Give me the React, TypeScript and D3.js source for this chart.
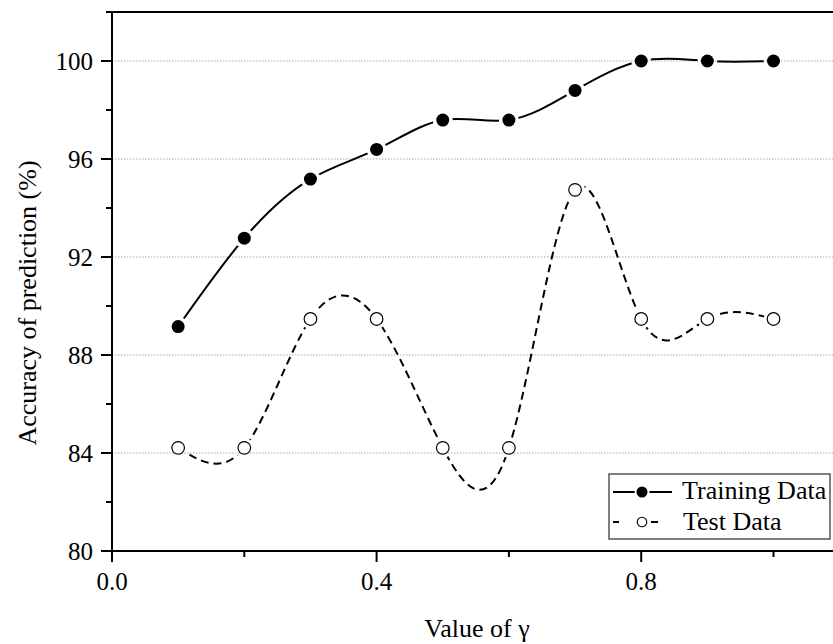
import React from "react";
import * as d3 from "d3";

// gamma values and accuracies (%)
const gammas = [0.1, 0.2, 0.3, 0.4, 0.5, 0.6, 0.7, 0.8, 0.9, 1.0];
const trainAcc = [89.16, 92.77, 95.18, 96.39, 97.59, 97.59, 98.8, 100, 100, 100];
const testAcc = [84.21, 84.21, 89.47, 89.47, 84.21, 84.21, 94.74, 89.47, 89.47, 89.47];

const yMajor = [80, 84, 88, 92, 96, 100];
const yMinor = [82, 86, 90, 94, 98];
const xMajor = [0.0, 0.4, 0.8];
const xMinor = [0.2, 0.6, 1.0];
const gridVals = [84, 88, 92, 96, 100];

const W = 833;
const H = 644;
const left = 112;
const top = 12;
const bottom = 551;
const txt = { fontFamily: "Liberation Serif, Times New Roman, DejaVu Serif, serif" };

export default function App() {
  const x = d3.scaleLinear().domain([0, 1.1]).range([left, left + 1.1 * 661.5]);
  const y = d3.scaleLinear().domain([80, 102]).range([bottom, top]);

  const train = gammas.map((g, i) => [g, trainAcc[i]] as [number, number]);
  const test = gammas.map((g, i) => [g, testAcc[i]] as [number, number]);

  const line = d3
    .line<[number, number]>()
    .x((d) => x(d[0]))
    .y((d) => y(d[1]))
    .curve(d3.curveNatural);

  return (
    <svg width={W} height={H} style={{ position: "absolute", left: 0, top: 0, background: "#fff" }}>
      <defs>
        <mask id="trainMask" maskUnits="userSpaceOnUse" x={0} y={0} width={W} height={H}>
          <rect x={0} y={0} width={W} height={H} fill="#fff" />
          {train.map((d, i) => (
            <circle key={i} cx={x(d[0])} cy={y(d[1])} r={10} fill="#000" />
          ))}
        </mask>
        <mask id="testMask" maskUnits="userSpaceOnUse" x={0} y={0} width={W} height={H}>
          <rect x={0} y={0} width={W} height={H} fill="#fff" />
          {test.map((d, i) => (
            <circle key={i} cx={x(d[0])} cy={y(d[1])} r={10} fill="#000" />
          ))}
        </mask>
      </defs>

      {/* gridlines */}
      {gridVals.map((v) => (
        <line
          key={v}
          x1={left}
          x2={W}
          y1={y(v)}
          y2={y(v)}
          stroke="#a8a8a8"
          strokeWidth={1}
          strokeDasharray="1.5,1.5"
        />
      ))}

      {/* curves */}
      <path d={line(train) || ""} fill="none" stroke="#000" strokeWidth={2} mask="url(#trainMask)" />
      <path
        d={line(test) || ""}
        fill="none"
        stroke="#000"
        strokeWidth={2}
        strokeDasharray="8,5"
        mask="url(#testMask)"
      />

      {/* markers */}
      {train.map((d, i) => (
        <circle key={"tr" + i} cx={x(d[0])} cy={y(d[1])} r={6.5} fill="#000" />
      ))}
      {test.map((d, i) => (
        <circle
          key={"te" + i}
          cx={x(d[0])}
          cy={y(d[1])}
          r={6.3}
          fill="#fff"
          stroke="#000"
          strokeWidth={1.2}
        />
      ))}

      {/* frame */}
      <line x1={106} x2={W} y1={top} y2={top} stroke="#000" strokeWidth={2} />
      <line x1={left} x2={left} y1={top - 1} y2={bottom + 1} stroke="#000" strokeWidth={2} />
      <line x1={left - 1} x2={W} y1={bottom} y2={bottom} stroke="#000" strokeWidth={2} />

      {/* y ticks */}
      {yMajor.map((v) => (
        <g key={"ym" + v}>
          <line x1={left - 11} x2={left} y1={y(v)} y2={y(v)} stroke="#000" strokeWidth={2} />
          <text x={93} y={y(v) + 9} textAnchor="end" fontSize={25} style={txt}>
            {v}
          </text>
        </g>
      ))}
      {yMinor.map((v) => (
        <line key={"yn" + v} x1={left - 6} x2={left} y1={y(v)} y2={y(v)} stroke="#000" strokeWidth={2} />
      ))}

      {/* x ticks */}
      {xMajor.map((v) => (
        <g key={"xm" + v}>
          <line x1={x(v)} x2={x(v)} y1={bottom} y2={bottom + 11} stroke="#000" strokeWidth={2} />
          <text x={x(v)} y={590} textAnchor="middle" fontSize={25} style={txt}>
            {v.toFixed(1)}
          </text>
        </g>
      ))}
      {xMinor.map((v) => (
        <line key={"xn" + v} x1={x(v)} x2={x(v)} y1={bottom} y2={bottom + 6} stroke="#000" strokeWidth={2} />
      ))}

      {/* axis titles */}
      <text x={477} y={637} textAnchor="middle" fontSize={26} style={txt}>
        Value of γ
      </text>
      <text transform="translate(36,303) rotate(-90)" textAnchor="middle" fontSize={26} style={txt}>
        Accuracy of prediction (%)
      </text>

      {/* legend */}
      <rect x={609} y={474} width={221} height={65} fill="#fff" stroke="#555" strokeWidth={1.5} />
      <line x1={613} x2={672} y1={492} y2={492} stroke="#000" strokeWidth={2} />
      <circle cx={642} cy={492} r={6.5} fill="#000" stroke="#fff" strokeWidth={2} />
      <text x={682} y={499} fontSize={26} style={txt}>
        Training Data
      </text>
      <line x1={613} x2={619} y1={522} y2={522} stroke="#000" strokeWidth={2} />
      <line x1={651} x2={658} y1={522} y2={522} stroke="#000" strokeWidth={2} />
      <circle cx={642} cy={522} r={4.8} fill="#fff" stroke="#000" strokeWidth={1.1} />
      <text x={683} y={530} fontSize={26} style={txt}>
        Test Data
      </text>
    </svg>
  );
}
